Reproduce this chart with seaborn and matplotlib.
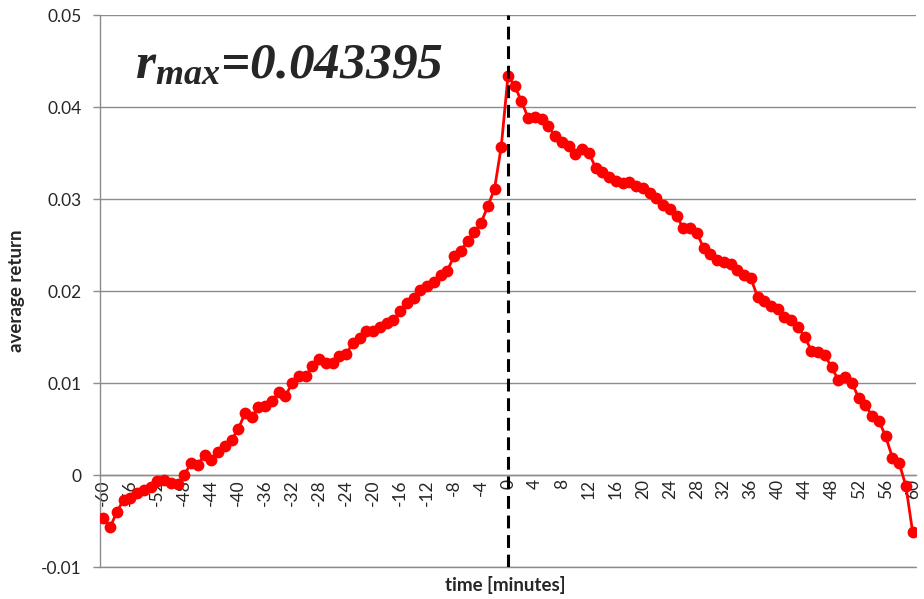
import matplotlib
matplotlib.use("Agg")
import matplotlib.pyplot as plt
import numpy as np
import pandas as pd
import seaborn as sns

# minutes relative to the event
minutes = list(range(-60, 61))

# average return before the event (t = -60 .. -1)
returns_before = [
    -0.0047, -0.0057, -0.0040, -0.0027, -0.0025, -0.0020, -0.0016, -0.0013,
    -0.0007, -0.0005, -0.0009, -0.0010, 0.0000, 0.0013, 0.0011, 0.0022,
    0.0016, 0.0025, 0.0031, 0.0038, 0.0050, 0.0067, 0.0063, 0.0074,
    0.0075, 0.0080, 0.0090, 0.0086, 0.0100, 0.0108, 0.0108, 0.0118,
    0.0126, 0.0122, 0.0122, 0.0129, 0.0132, 0.0143, 0.0149, 0.0156,
    0.0157, 0.0161, 0.0165, 0.0168, 0.0178, 0.0187, 0.0192, 0.0201,
    0.0205, 0.0210, 0.0217, 0.0222, 0.0238, 0.0244, 0.0254, 0.0264,
    0.0274, 0.0292, 0.0311, 0.0357,
]

# peak average return at t = 0
r_max = 0.043395

# average return after the event (t = 1 .. 60)
returns_after = [
    0.0423, 0.0406, 0.0388, 0.0389, 0.0387, 0.0379, 0.0368, 0.0362,
    0.0358, 0.0349, 0.0354, 0.0350, 0.0334, 0.0329, 0.0324, 0.0320,
    0.0317, 0.0318, 0.0314, 0.0312, 0.0307, 0.0301, 0.0293, 0.0289,
    0.0282, 0.0268, 0.0269, 0.0263, 0.0247, 0.0240, 0.0234, 0.0232,
    0.0229, 0.0223, 0.0217, 0.0214, 0.0194, 0.0189, 0.0184, 0.0180,
    0.0172, 0.0169, 0.0161, 0.0150, 0.0135, 0.0134, 0.0130, 0.0117,
    0.0103, 0.0107, 0.0100, 0.0084, 0.0076, 0.0064, 0.0059, 0.0042,
    0.0019, 0.0013, -0.0012, -0.0062,
]

x_ticks = list(range(-60, 61, 4))
y_ticks = [-0.01, 0.0, 0.01, 0.02, 0.03, 0.04, 0.05]
y_tick_labels = ["-0.01", "0", "0.01", "0.02", "0.03", "0.04", "0.05"]

df = pd.DataFrame({
    "time": minutes,
    "avg_return": returns_before + [r_max] + returns_after,
})

sns.set_theme(style="white")
plt.rcParams["font.family"] = ["Lato", "DejaVu Sans"]
plt.rcParams["mathtext.fontset"] = "custom"
plt.rcParams["mathtext.bfit"] = "Liberation Serif:bold:italic"
plt.rcParams["mathtext.rm"] = "Liberation Serif:bold:italic"

fig = plt.figure(figsize=(9.24, 5.99), dpi=100)
ax = fig.add_axes([100 / 924, 1 - 567 / 599, 816 / 924, 552 / 599])

grid_color = "#8c8c8c"

sns.lineplot(
    data=df, x="time", y="avg_return", ax=ax,
    color="#ff0000", linewidth=2.0, marker="o", markersize=8.5,
    markeredgecolor="#ff0000", markeredgewidth=0, zorder=3,
)

# vertical dashed line at the event time
ax.axvline(0, color="black", linewidth=2.2, linestyle=(0, (4.2, 2.2)), zorder=4)

ax.set_xlim(-60.5, 60.5)
ax.set_ylim(-0.01, 0.05)

ax.yaxis.grid(True, color=grid_color, linewidth=1.0)
ax.axhline(-0.01, color=grid_color, linewidth=1.0, clip_on=False, zorder=0.5)
ax.set_axisbelow(True)

for side in ["top", "right"]:
    ax.spines[side].set_visible(False)
ax.spines["left"].set_color(grid_color)
ax.spines["left"].set_linewidth(1.0)
ax.spines["bottom"].set_position(("data", 0))
ax.spines["bottom"].set_color(grid_color)
ax.spines["bottom"].set_linewidth(1.0)

ax.set_yticks(y_ticks)
ax.set_yticklabels(y_tick_labels)
ax.set_xticks(x_ticks)
ax.set_xticklabels([str(v) for v in x_ticks])

ax.tick_params(axis="y", which="major", direction="out", length=5, width=1.0,
               color=grid_color, labelsize=12.5, pad=8, left=True)
ax.tick_params(axis="x", which="major", length=0, labelsize=12.5, pad=3,
               labelrotation=90)

ax.set_xlabel("time [minutes]", fontsize=13.5, fontweight="bold")
ax.set_ylabel("average return", fontsize=13.5, fontweight="bold")
ax.xaxis.set_label_coords(0.497, -0.016)
ax.yaxis.set_label_coords(-0.092, 0.5)

ax.text(-55.3, 0.0431, r"$\mathbfit{r_{max}}$=" + f"{r_max:.6f}",
        fontsize=37, fontfamily="Liberation Serif", fontweight="bold",
        fontstyle="italic", va="baseline", ha="left")

fig.savefig("out.png", dpi=100)
